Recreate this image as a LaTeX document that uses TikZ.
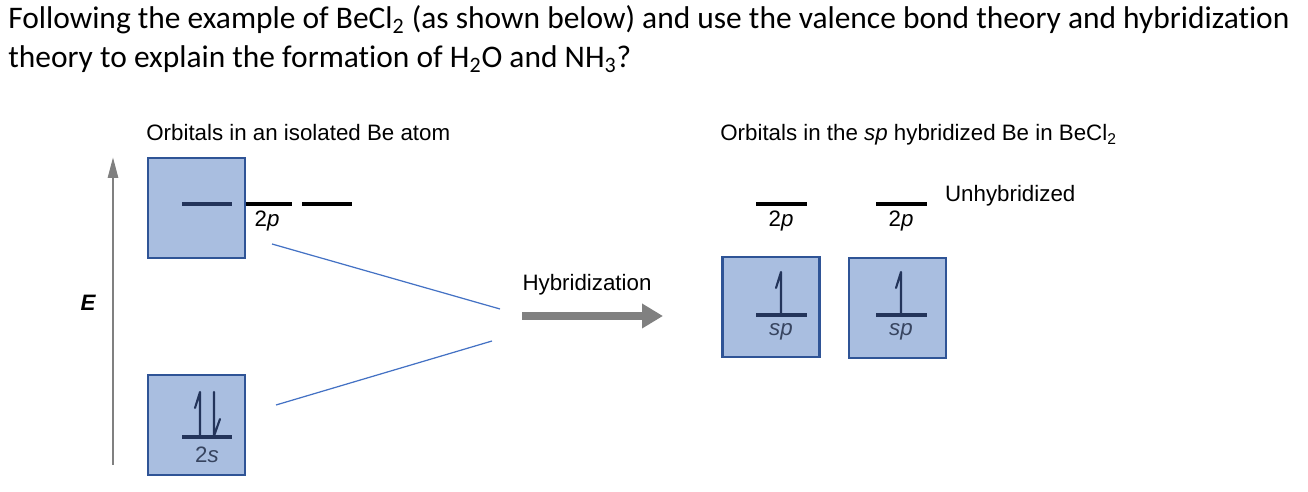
\documentclass[tikz,border=0pt]{standalone}
\usepackage{fontspec}
\setmainfont{Liberation Sans}
\newfontfamily\calibri[Ligatures={NoCommon}]{Carlito}
\usetikzlibrary{arrows.meta, positioning}

\definecolor{boxfill}{RGB}{169,190,224}
\definecolor{boxline}{RGB}{47,84,150}
\definecolor{levelnavy}{RGB}{35,52,90}
\definecolor{inktext}{RGB}{55,68,95}
\definecolor{linkblue}{RGB}{68,114,196}
\definecolor{arrowgray}{RGB}{128,128,128}

\begin{document}
\begin{tikzpicture}[
        x=0.02cm, y=-0.02cm,
        orbbox/.style={
            draw=boxline,
            fill=boxfill,
            line width=1.4pt,
            minimum width=1.94cm,
            minimum height=2cm,
            inner sep=0pt
        },
        level/.style={
            line width=2.3pt
        },
        boxlevel/.style={
            level,
            levelnavy
        },
        spin/.style={
            levelnavy,
            line width=1.2pt,
            line cap=round,
            line join=round
        },
        orblabel/.style={
            font=\fontsize{12.7}{15}\selectfont,
            inner sep=1pt
        },
        caption/.style={
            font=\fontsize{12.7}{15}\selectfont,
            anchor=base west,
            inner sep=0pt
        },
        link/.style={
            linkblue,
            line width=0.7pt
        },
        question/.style={
            font=\calibri\fontsize{17.9}{21}\selectfont,
            anchor=base west,
            inner sep=0pt
        }
    ]

        \useasboundingbox (0,0) rectangle (1308,492);

        % ---------------------------------------------------------------------
        % Question
        % ---------------------------------------------------------------------

        \node[question] (line1) at (8,29) {Following the example of BeCl\textsubscript{2} (as shown below) and use the valence bond theory and hybridization};
        \node[question] (line2) at (8,68) {theory to explain the formation of H\textsubscript{2}O and NH\textsubscript{3}?};

        % ---------------------------------------------------------------------
        % Isolated Be atom
        % ---------------------------------------------------------------------

        \node[caption] (leftcap) at (146,141) {Orbitals in an isolated Be atom};

        \draw[arrowgray, line width=1.6pt, -{Triangle[length=0.42cm, width=0.2cm]}]
            (113,465) -- (113,157);
        \node[font=\fontsize{12.7}{15}\selectfont\bfseries\itshape] (energy) at (88,303) {E};

        \draw[level] (242,204) -- (292,204);
        \draw[level] (302,204) -- (352,204);
        \node[orbbox] (pbox) at (196.5,208) {};
        \draw[boxlevel] (182,204) -- (232,204);
        \node[orblabel] (plabel) at (267,221) {2\textit{p}};

        \node[orbbox] (sbox) at (196.5,425) {};
        \draw[boxlevel] (182,437) -- (232,437);
        \draw[spin] (200,436) -- (200,392) -- (195,408);
        \draw[spin] (214,392) -- (214,436) -- (220,419);
        \node[orblabel, text=inktext] (slabel) at (207,455) {2\textit{s}};

        % ---------------------------------------------------------------------
        % Hybridization
        % ---------------------------------------------------------------------

        \coordinate (pfrom) at (272,244);
        \coordinate (pto) at (500,309);
        \coordinate (sfrom) at (276,405);
        \coordinate (sto) at (492,341);
        \draw[link] (pfrom) -- (pto);
        \draw[link] (sfrom) -- (sto);

        \coordinate (hybstart) at (522,316);
        \coordinate (hybend) at (663,316);
        \draw[arrowgray, line width=0.15cm, -{Triangle[length=0.42cm, width=0.47cm]}]
            (hybstart) -- (hybend);
        \node[orblabel] (hyblabel) at (587,285) {Hybridization};

        % ---------------------------------------------------------------------
        % sp hybridized Be
        % ---------------------------------------------------------------------

        \node[caption] (rightcap) at (720,141) {Orbitals in the \textit{sp} hybridized Be in BeCl\textsubscript{2}};

        \draw[level] (756,204) -- (807,204);
        \node[orblabel] (p1label) at (781,221) {2\textit{p}};
        \draw[level] (876,204) -- (927,204);
        \node[orblabel] (p2label) at (901,221) {2\textit{p}};
        \node[orblabel, anchor=west] (unhyb) at (943,196) {Unhybridized};

        \node[orbbox] (spbox1) at (771,307) {};
        \draw[boxlevel] (756,315) -- (807,315);
        \draw[spin] (781,314) -- (781,272) -- (776,288);
        \node[orblabel, text=inktext] (sp1label) at (781,332) {\textit{sp}};

        \node[orbbox] (spbox2) at (897.5,308) {};
        \draw[boxlevel] (876,315) -- (927,315);
        \draw[spin] (901,314) -- (901,272) -- (896,288);
        \node[orblabel, text=inktext] (sp2label) at (901,332) {\textit{sp}};

    \end{tikzpicture}
\end{document}
